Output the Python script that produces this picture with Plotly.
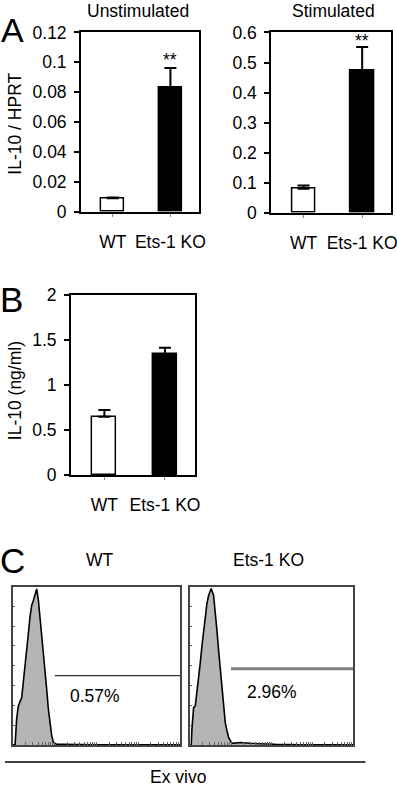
import math
import plotly.graph_objects as go

# ---------------- data ----------------
categories = ["WT", "Ets-1 KO"]
unstim_mean = [0.009, 0.0835]
unstim_err = [0.0005, 0.0128]
unstim_sig = ["", "**"]

stim_mean = [0.080, 0.472]
stim_err = [0.011, 0.080]
stim_sig = ["", "**"]

elisa_mean = [0.651, 1.344]
elisa_err = [0.075, 0.070]

# flow histograms (fluorescence intensity, events)
wt_intensity = [1.0, 1.12, 1.22, 1.34, 1.61, 1.77, 1.94, 2.12, 2.33, 2.55, 2.80, 3.07, 3.37,
                3.69, 4.05, 4.44, 4.86, 5.32, 5.83, 6.40, 7.01, 7.69, 8.43, 9.25, 11.1,
                15.8, 30.0, 100, 1000, 10000]
wt_counts = [0, 0, 13, 19.7, 23.8, 31.3, 39.7, 48, 56.3, 64.7, 70.5, 73, 76.3,
             78.8, 73, 64.7, 56.3, 48, 38, 28, 18, 9.7, 4.7, 1.3, 0.3,
             0.3, 0.1, 0, 0, 0]

ko_intensity = [1.0, 1.06, 1.10, 1.21, 1.33, 1.46, 1.60, 1.76, 1.93, 2.12, 2.33, 2.56, 2.82,
                3.27, 3.74, 4.10, 4.51, 4.95, 5.45, 5.98, 6.58, 7.23, 7.94, 8.73, 10.5,
                17.0, 29.5, 52.5, 123, 501, 10000]
ko_counts = [0, 0, 8, 18.8, 19.7, 26.3, 33, 41.3, 49.7, 58, 65.5, 71.3, 75.5,
             79, 75.5, 68, 58, 48, 38, 28, 18, 11.3, 7.2, 3.8, 0.8,
             1.2, 0.8, 0.5, 0.3, 0.1, 0]

wt_gate_x = [10, 10000]
wt_gate_y = [35, 35]
ko_gate_x = [10, 10000]
ko_gate_y = [38.5, 38.5]
wt_pct = "0.57%"
ko_pct = "2.96%"

# ---------------- layout helpers ----------------
# page size and mapping from target-picture pixels to page pixels
WL, HL = 404, 800
SX, SY, OY = 0.984, 0.973, 9.6
FONT = "Liberation Sans, Arial, sans-serif"
FS = 17.5


def fx(px):
    return (px / SX) / WL


def fy(py):
    return 1 - ((py - OY) / SY) / HL


fig = go.Figure()

bar_colors = ["white", "black"]


def add_bars(means, errs, xa, ya):
    fig.add_trace(go.Bar(
        x=categories, y=means, width=0.4,
        marker=dict(color=bar_colors, line=dict(color="black", width=1.5)),
        error_y=dict(type="data", array=errs, arrayminus=[0, 0], symmetric=False,
                     color="black", thickness=2, width=6),
        xaxis=xa, yaxis=ya, showlegend=False, hoverinfo="skip"))


add_bars(unstim_mean, unstim_err, "x", "y")
add_bars(stim_mean, stim_err, "x2", "y2")
add_bars(elisa_mean, elisa_err, "x3", "y3")

# histograms
fig.add_trace(go.Scatter(x=wt_intensity, y=wt_counts, mode="lines", fill="tozeroy",
                         fillcolor="#b5b5b5", line=dict(color="black", width=1.6),
                         xaxis="x4", yaxis="y4", showlegend=False, hoverinfo="skip"))
fig.add_trace(go.Scatter(x=ko_intensity, y=ko_counts, mode="lines", fill="tozeroy",
                         fillcolor="#b5b5b5", line=dict(color="black", width=1.6),
                         xaxis="x5", yaxis="y5", showlegend=False, hoverinfo="skip"))
fig.add_trace(go.Scatter(x=wt_gate_x, y=wt_gate_y, mode="lines",
                         line=dict(color="#333333", width=1.2),
                         xaxis="x4", yaxis="y4", showlegend=False, hoverinfo="skip"))
fig.add_trace(go.Scatter(x=ko_gate_x, y=ko_gate_y, mode="lines",
                         line=dict(color="#808080", width=3),
                         xaxis="x5", yaxis="y5", showlegend=False, hoverinfo="skip"))

tick_font = dict(family=FONT, size=FS, color="black")

bar_x = dict(type="category", range=[-0.55, 1.5], showline=True, linecolor="black",
             linewidth=2, mirror=True, ticks="outside", ticklen=3, tickwidth=1,
             tickcolor="#888888", tickfont=tick_font, ticklabelstandoff=10,
             showgrid=False, zeroline=False, fixedrange=True)
bar_y = dict(showline=True, linecolor="black", linewidth=2, mirror=True,
             ticks="outside", ticklen=5, tickwidth=1.5, tickcolor="black",
             tickfont=tick_font, showgrid=False, zeroline=False, ticklabelstandoff=4)

hist_x = dict(type="log", range=[0, 4], showline=True, linecolor="#444444", linewidth=1.5,
              mirror=True, ticks="inside", ticklen=3, tickwidth=1, tickcolor="#666666",
              dtick="D1", showticklabels=False, showgrid=False, zeroline=False)
hist_y = dict(range=[0, 80], showline=True, linecolor="#444444", linewidth=1.5,
              mirror=True, ticks="inside", ticklen=2, tickwidth=1, tickcolor="#666666",
              dtick=10, showticklabels=False, showgrid=False, zeroline=False)

fig.update_layout(
    width=WL, height=HL, margin=dict(l=0, r=0, t=0, b=0),
    paper_bgcolor="white", plot_bgcolor="white",
    font=dict(family=FONT, size=FS, color="black"),
    bargap=0,
    xaxis=dict(bar_x, domain=[fx(81), fx(199)], anchor="y"),
    yaxis=dict(bar_y, domain=[fy(211), fy(32)], anchor="x", range=[0, 0.12], dtick=0.02),
    xaxis2=dict(bar_x, domain=[fx(271), fx(391)], anchor="y2"),
    yaxis2=dict(bar_y, domain=[fy(212), fy(32)], anchor="x2", range=[0, 0.6], dtick=0.1),
    xaxis3=dict(bar_x, domain=[fx(71), fx(195)], anchor="y3"),
    yaxis3=dict(bar_y, domain=[fy(474), fy(294)], anchor="x3", range=[0, 2], dtick=0.5),
    xaxis4=dict(hist_x, domain=[fx(13), fx(180)], anchor="y4"),
    yaxis4=dict(hist_y, domain=[fy(743), fy(585)], anchor="x4"),
    xaxis5=dict(hist_x, domain=[fx(190), fx(353)], anchor="y5"),
    yaxis5=dict(hist_y, domain=[fy(743), fy(585)], anchor="x5"),
)

ann = []


def paper_text(text, px, py, size=FS, angle=0):
    ann.append(dict(text=text, x=fx(px), y=fy(py), xref="paper", yref="paper",
                    xanchor="center", yanchor="middle", showarrow=False, textangle=angle,
                    font=dict(family=FONT, size=size, color="black")))


# panel letter A sits at the very top edge
ann.append(dict(text="A", x=fx(12), y=1, xref="paper", yref="paper", xanchor="center",
                yanchor="top", borderpad=0, showarrow=False,
                font=dict(family=FONT, size=34, color="black")))
paper_text("B", 11, 299, size=35)
paper_text("C", 12, 559, size=35)
paper_text("Unstimulated", 138, 11)
paper_text("Stimulated", 333, 11)
paper_text("IL-10 / HPRT", 15, 123, angle=-90)
paper_text("IL-10 (ng/ml)", 15, 390, angle=-90)
paper_text("WT", 100, 558)
paper_text("Ets-1 KO", 268, 558)
paper_text("Ex vivo", 178, 775)

# significance stars
for xa, ya, means, errs, sigs, shift in [("x", "y", unstim_mean, unstim_err, unstim_sig, -4),
                                         ("x2", "y2", stim_mean, stim_err, stim_sig, -6)]:
    for c, m, e, s in zip(categories, means, errs, sigs):
        if s:
            ann.append(dict(text=s, x=c, y=m + e, xref=xa, yref=ya, xanchor="center",
                            yanchor="bottom", yshift=shift, showarrow=False,
                            font=dict(family=FONT, size=FS, color="black")))

# percentages
ann.append(dict(text=wt_pct, x=math.log10(91), y=24.5, xref="x4", yref="y4",
                showarrow=False, font=dict(family=FONT, size=FS, color="black")))
ann.append(dict(text=ko_pct, x=math.log10(102), y=26.5, xref="x5", yref="y5",
                showarrow=False, font=dict(family=FONT, size=FS, color="black")))

fig.update_layout(annotations=ann)

fig.add_shape(type="line", xref="paper", yref="paper", x0=fx(5), x1=fx(365),
              y0=fy(760), y1=fy(760), line=dict(color="black", width=1.5))

fig.write_html("out.html",
               config={"displayModeBar": False},
               post_script="document.body.style.margin='0px';"
                           "document.body.style.overflow='hidden';")
